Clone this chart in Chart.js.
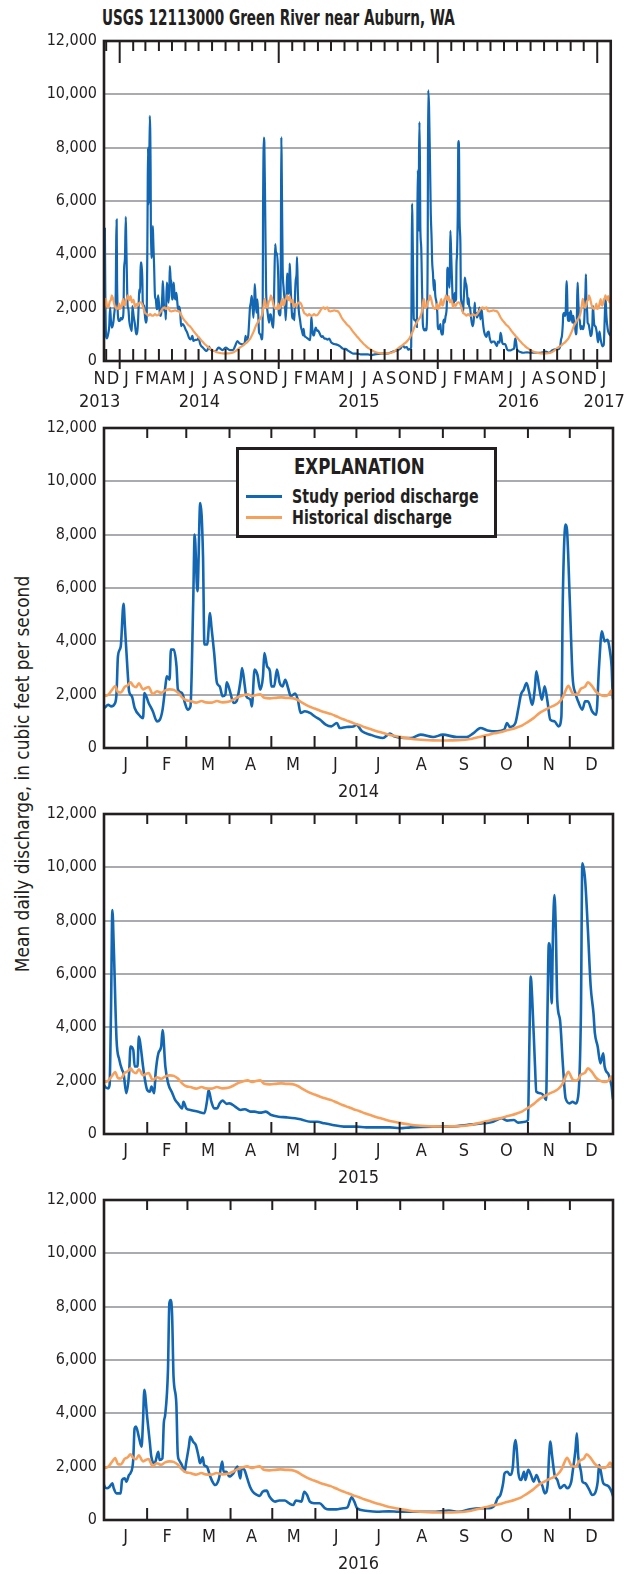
<!DOCTYPE html>
<html>
<head>
<meta charset="utf-8">
<script src="https://cdn.jsdelivr.net/npm/chart.js@4.4.0/dist/chart.umd.min.js"></script>
<style>
html,body{margin:0;padding:0;background:#fff;}
body{width:626px;height:1574px;position:relative;overflow:hidden;font-family:'Liberation Sans Narrow','DejaVu Sans Condensed','Arial Narrow',sans-serif;color:#231f20;}
canvas{position:absolute;left:0;}
#title{position:absolute;left:102px;top:6px;font-weight:bold;font-size:21px;line-height:24px;white-space:nowrap;transform:scaleX(0.72);transform-origin:0 0;}
#ylab{position:absolute;left:22px;top:774px;transform:translate(-50%,-50%) rotate(-90deg) scaleX(0.97);font-size:19.5px;white-space:nowrap;}
#legbox{position:absolute;left:236px;top:447px;width:261px;height:91px;box-sizing:border-box;border:3px solid #231f20;background:#fff;z-index:2;}
.leg{position:absolute;z-index:3;white-space:nowrap;font-weight:bold;transform-origin:0 0;}
.legline{position:absolute;z-index:3;height:3px;}
</style>
</head>
<body>
<div id="title">USGS 12113000 Green River near Auburn, WA</div>
<div id="ylab">Mean daily discharge, in cubic feet per second</div>
<canvas id="c1" width="626" height="400" style="top:21px"></canvas>
<canvas id="c2" width="626" height="400" style="top:408px"></canvas>
<canvas id="c3" width="626" height="400" style="top:794px"></canvas>
<canvas id="c4" width="626" height="400" style="top:1180px"></canvas>
<div id="legbox"></div>
<div class="leg" style="left:294px;top:454px;font-size:22px;line-height:26px;transform:scaleX(0.84);">EXPLANATION</div>
<div class="legline" style="left:246px;top:495px;width:36px;background:#1367b2;"></div>
<div class="leg" style="left:292px;top:484px;font-size:20px;line-height:24px;transform:scaleX(0.79);">Study period discharge</div>
<div class="legline" style="left:246px;top:516px;width:36px;background:#f7a05b;"></div>
<div class="leg" style="left:292px;top:505px;font-size:20px;line-height:24px;transform:scaleX(0.79);">Historical discharge</div>
<script>
// ---------------- DATA ----------------
// Historical mean daily discharge (climatology), day-of-year offset from Jan 1
const histDay = [0,3,6,8,10,12,15,17,19,21,23,25,28,30,32,35,38,41,44,47,50,53,56,59,62,66,70,73,77,81,85,89,93,97,100,103,106,109,112,115,119,123,127,131,135,139,143,147,151,155,159,163,167,171,175,179,183,187,191,195,199,203,207,211,215,220,225,230,236,242,248,254,259,264,268,272,276,280,284,288,292,296,300,304,308,312,316,320,323,326,329,331,333,336,339,342,345,347,350,353,356,359,362,364];
const histQ = [1950,2000,2200,2320,2100,2080,2300,2350,2460,2330,2280,2430,2200,2250,2290,2020,2130,2070,2160,2200,2180,2080,1900,1790,1760,1700,1760,1710,1700,1760,1710,1730,1820,1930,1980,2010,1950,1990,2010,1880,1860,1880,1900,1880,1870,1800,1670,1560,1480,1400,1330,1270,1180,1090,1010,930,860,780,710,640,580,520,470,430,390,350,320,300,285,280,285,290,310,350,400,450,500,550,590,650,700,770,850,980,1120,1300,1420,1530,1600,1700,1900,2150,2330,2050,2000,2220,2300,2460,2320,2100,1990,1950,2020,2150];

// Study period discharge, day-of-year offsets per year
const study2013Day = [331,332,334,336,339,341,343,345,347,350,352,354,356,357,358,359,361,363];
const study2013Q   = [5000,2600,900,850,1050,1300,2000,1500,1250,1400,1700,2000,2600,4500,5300,3000,1700,1500];

const study2014Day = [0,3,5,8,9,10,12,14,15,17,18,20,22,26,28,29,32,35,38,40,42,44,45,47,48,50,52,53,56,58,60,62,64,65,67,69,71,72,74,76,77,79,81,83,85,87,88,90,93,95,98,99,101,102,105,106,108,110,112,114,115,117,119,120,122,124,126,128,130,132,134,137,139,141,144,148,151,155,159,163,167,169,174,179,181,185,191,196,200,205,208,215,220,227,236,243,253,260,265,270,275,282,287,289,291,295,297,299,301,303,305,307,309,310,312,314,316,318,320,323,326,328,329,331,332,334,336,338,340,343,345,347,350,353,355,357,359,361,363,364];
const study2014Q   = [1500,1620,1560,1690,2060,3440,3810,5410,4560,2810,2120,1940,1500,1190,1120,2060,1690,1380,1000,1060,1440,2310,2690,2560,3690,3690,3060,2190,2060,1690,1440,1560,5560,8000,5880,9190,7190,3880,3880,5060,4560,3560,2440,2310,1940,2000,2460,2190,1690,1750,2560,3000,2310,1940,1810,1560,2940,2750,2190,2690,3560,3060,2880,2310,2310,2940,2440,2310,2560,2250,1940,2040,1810,1310,1380,1310,1190,1060,875,810,940,750,790,810,875,625,500,410,375,540,440,375,375,500,410,500,410,410,560,750,660,625,690,940,790,940,1440,2000,2190,2440,2060,1620,2250,2880,2310,1810,2310,1750,1060,1000,810,1190,5560,8380,8190,5560,2690,2060,1750,1440,1750,1750,1380,1250,3060,4380,4000,4060,3560,3060];

const study2015Day = [0,3,4,5,6,7,9,11,13,14,16,18,19,21,22,24,25,26,28,29,31,33,34,36,37,39,41,42,44,46,49,51,53,56,57,59,62,67,72,74,75,77,79,81,83,85,88,90,94,98,101,105,108,112,116,120,125,131,137,141,148,153,158,164,172,181,188,195,205,212,220,236,248,260,272,279,285,289,294,297,302,304,305,306,307,309,310,313,315,317,318,319,320,321,322,323,324,325,327,329,331,334,336,338,340,342,343,345,347,349,351,352,354,356,358,359,362,364];
const study2015Q   = [1840,1710,1840,4530,8400,7030,3530,2780,2400,2280,1530,2280,3280,3150,2530,2530,3650,3400,2530,2150,1650,1590,1780,1530,2280,3030,3280,3900,2530,1900,1530,1280,1150,960,1210,960,900,840,780,1280,1650,1210,960,960,1150,1250,1130,1150,1030,900,930,840,840,800,840,710,650,625,590,550,460,460,400,340,275,275,250,250,250,215,250,275,275,340,400,460,590,500,525,425,460,525,3280,5900,5150,2650,1590,1530,1460,1280,4530,7150,6780,4900,7650,8960,7650,5030,4280,2650,1340,1150,1210,1150,1400,4530,10150,9530,7650,5530,4530,3780,3280,2650,3030,2530,2210,1780];

const study2016Day = [0,2,4,6,7,9,12,13,15,16,18,19,21,22,23,25,27,28,29,31,33,34,36,37,39,40,42,43,44,46,47,48,49,50,52,53,54,56,58,59,61,62,64,66,68,69,71,72,74,76,78,80,82,83,85,86,88,90,93,95,96,98,99,101,103,105,107,110,112,114,117,119,123,126,130,133,136,138,142,144,146,148,151,155,159,162,167,172,175,177,178,180,182,188,196,205,212,224,236,248,255,263,270,277,281,283,285,287,288,290,292,294,295,296,297,298,300,302,303,305,307,309,311,313,315,317,319,320,321,322,324,326,328,331,333,336,337,339,340,341,343,344,346,349,351,353,355,356,357,359,361,363,365];
const study2016Q   = [1310,1190,1250,1380,1190,1000,1000,1500,1560,1440,1690,1750,2250,3440,3500,3130,2750,3630,4880,3880,2880,2380,2130,2190,2560,2250,2310,3630,3940,5630,8130,8250,7630,5380,4380,2500,2250,2060,1810,2130,2750,3130,2940,2810,2380,2130,2350,2060,2000,1690,1440,1310,1440,1630,2190,1810,1810,1630,1750,1940,2000,1560,1940,1880,1560,1250,1060,940,900,1060,1100,880,690,730,730,630,560,730,690,1060,940,690,630,630,440,400,400,440,470,750,850,690,440,350,310,325,310,310,310,350,310,400,440,440,560,810,940,1380,1750,1810,1690,2000,2750,3000,2500,1750,1500,1810,1500,1880,1690,1440,1690,1440,1310,1000,1310,2380,2940,2500,1690,1500,1190,1310,1190,1440,1810,2630,3250,2380,1810,1440,1380,1130,940,1000,1440,2060,1880,1380,1310,1250,1060];

const study2017Day = [0,2,5,8,12,15,17,19,21,24,28,31];
const study2017Q   = [900,700,1100,800,550,600,1500,2400,1700,1200,1000,950];

const yTickValues = [0,2000,4000,6000,8000,10000,12000];
const monthLetters = ['J','F','M','A','M','J','J','A','S','O','N','D'];
const panelYears = [2014, 2015, 2016];

// ---------------- HELPERS ----------------
const studyColor = '#1367b2';
const histColor = '#f7a05b';
const inkColor = '#231f20';
const fontFam = "'Liberation Sans Narrow','DejaVu Sans Condensed','Arial Narrow',sans-serif";

function dayNum(y, m, d) { return Date.UTC(y, m - 1, d) / 864e5; }
function daysIn(y, m) { return new Date(Date.UTC(y, m, 0)).getUTCDate(); }
function yearPts(year, days, vals) {
  const b = dayNum(year, 1, 1);
  return days.map((d, i) => ({ x: b + d, y: vals[i] }));
}
const studyAll = [].concat(
  yearPts(2013, study2013Day, study2013Q),
  yearPts(2014, study2014Day, study2014Q),
  yearPts(2015, study2015Day, study2015Q),
  yearPts(2016, study2016Day, study2016Q),
  yearPts(2017, study2017Day, study2017Q)
);
const histAll = [].concat(...[2013, 2014, 2015, 2016, 2017].map(y => yearPts(y, histDay, histQ)));

function monthList(y0, m0, y1, m1) {
  const out = [];
  let y = y0, m = m0;
  while (y < y1 || (y === y1 && m <= m1)) {
    out.push({ y, m });
    m++; if (m > 12) { m = 1; y++; }
  }
  return out;
}

const framePlugin = {
  id: 'frame',
  afterDatasetsDraw(chart, args, opts) {
    const { ctx, chartArea: a } = chart;
    const x = chart.scales.x;
    ctx.save();
    ctx.strokeStyle = inkColor;
    ctx.lineWidth = 2;
    opts.bounds.forEach(b => {
      const px = x.getPixelForValue(b.v);
      ctx.beginPath();
      ctx.moveTo(px, a.top);
      ctx.lineTo(px, a.top + (b.long ? opts.longTop : opts.tick));
      ctx.stroke();
      ctx.beginPath();
      ctx.moveTo(px, a.bottom - opts.tickB);
      ctx.lineTo(px, a.bottom + (b.long ? opts.longOut : 0));
      ctx.stroke();
    });
    ctx.lineWidth = 2.6;
    ctx.strokeRect(a.left, a.top, a.right - a.left, a.bottom - a.top);
    ctx.restore();
  }
};

function makePanel(id, cfg) {
  const yFont = { family: fontFam, size: 16 };
  const xFont = { family: fontFam, size: 18 };
  return new Chart(document.getElementById(id), {
    type: 'line',
    data: {
      datasets: [
        { label: 'Historical discharge', data: histAll, borderColor: histColor, borderWidth: cfg.lw,
          pointRadius: 0, cubicInterpolationMode: 'monotone', fill: false },
        { label: 'Study period discharge', data: studyAll, borderColor: studyColor, borderWidth: cfg.lw,
          pointRadius: 0, cubicInterpolationMode: 'monotone', fill: false }
      ]
    },
    options: {
      responsive: false,
      animation: false,
      devicePixelRatio: 1,
      layout: { padding: { top: 20, right: 13, left: 0, bottom: 0 } },
      plugins: {
        legend: { display: false },
        tooltip: { enabled: false },
        frame: { bounds: cfg.bounds, tick: 10, tickB: 12, longTop: cfg.longTop, longOut: cfg.longOut }
      },
      scales: {
        x: {
          type: 'linear', position: 'bottom', weight: 0, min: cfg.min, max: cfg.max,
          grid: { display: false, drawTicks: false }, border: { display: false },
          afterBuildTicks: s => { s.ticks = cfg.months.map(o => ({ value: o.v })); },
          afterFit: s => { s.height = 30; },
          ticks: { autoSkip: false, maxRotation: 0, minRotation: 0, padding: cfg.mPad, font: xFont, color: inkColor,
                   callback: (v, i) => cfg.months[i].t }
        },
        xy: {
          type: 'linear', position: 'bottom', weight: 1, min: cfg.min, max: cfg.max,
          grid: { display: false, drawTicks: false }, border: { display: false },
          afterBuildTicks: s => { s.ticks = cfg.years.map(o => ({ value: o.v })); },
          afterFit: s => { s.height = 30; },
          ticks: { autoSkip: false, maxRotation: 0, minRotation: 0, padding: cfg.yPad, font: xFont, color: inkColor,
                   callback: (v, i) => cfg.years[i].t }
        },
        y: {
          min: 0, max: 12000,
          afterBuildTicks: s => { s.ticks = yTickValues.map(v => ({ value: v })); },
          afterFit: s => { s.width = 104; },
          ticks: { padding: 7, font: yFont, color: inkColor,
                   callback: v => v.toLocaleString('en-US') },
          grid: { color: '#a9abae', lineWidth: 2, drawTicks: false },
          border: { display: false }
        }
      }
    },
    plugins: [framePlugin]
  });
}

// Panel 1: whole study period
(function () {
  const months = monthList(2013, 11, 2017, 1).map(o => ({
    v: dayNum(o.y, o.m, 1) + daysIn(o.y, o.m) / 2, t: monthLetters[o.m - 1] }));
  const bounds = monthList(2013, 12, 2017, 1).map(o => ({ v: dayNum(o.y, o.m, 1), long: o.m === 1 }));
  const years = [
    { v: dayNum(2013, 11, 16), t: '2013' },
    { v: dayNum(2014, 7, 3), t: '2014' },
    { v: dayNum(2015, 7, 4), t: '2015' },
    { v: dayNum(2016, 7, 4), t: '2016' },
    { v: dayNum(2017, 1, 17), t: '2017' }
  ];
  makePanel('c1', { min: dayNum(2013, 11, 26), max: dayNum(2017, 2, 1), months, bounds, years,
                    longTop: 22, longOut: 8, lw: 2.2, mPad: 8, yPad: 1 });
})();

// Panels 2-4: one calendar year each
panelYears.forEach((yr, k) => {
  const months = monthList(yr, 1, yr, 12).map(o => ({
    v: dayNum(o.y, o.m, 1) + daysIn(o.y, o.m) / 2, t: monthLetters[o.m - 1] }));
  const bounds = monthList(yr, 2, yr, 12).map(o => ({ v: dayNum(o.y, o.m, 1), long: false }));
  const min = dayNum(yr, 1, 1), max = dayNum(yr + 1, 1, 1);
  const years = [{ v: (min + max) / 2, t: String(yr) }];
  makePanel('c' + (k + 2), { min, max, months, bounds, years, longTop: 10, longOut: 0, lw: 2.6, mPad: 7, yPad: 4 });
});
</script>
</body>
</html>
